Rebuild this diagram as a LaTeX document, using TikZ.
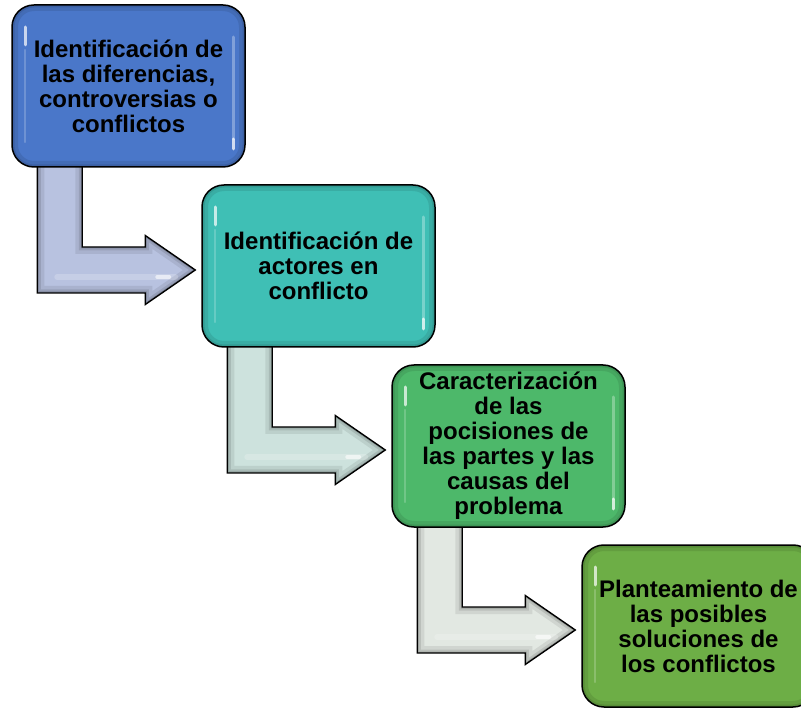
\documentclass[tikz,border=0pt]{standalone}
\usepackage{fontspec}
\setmainfont{Liberation Sans}
\usetikzlibrary{calc,backgrounds}
\definecolor{boxA}{HTML}{4A77C9}
\definecolor{boxB}{HTML}{3FBFB5}
\definecolor{boxC}{HTML}{4DB86A}
\definecolor{boxD}{HTML}{6DAE46}
\definecolor{arrA}{HTML}{B8C2E0}
\definecolor{arrB}{HTML}{CDE2DD}
\definecolor{arrC}{HTML}{E2E8E2}
\newcommand\arrowpoly[1]{(#1-q1) -- (#1-q2) -- (#1-q3) -- (#1-q4) -- (#1-q5) -- (#1-q6) -- (#1-q7) -- (#1-q8) -- (#1-q9) -- cycle}
\newcommand\flowarrow[3]{%
  \path let \p1=(#1.south west), \p2=(#2.west) in
    (\x1+26,\y1+10) coordinate (#1-q1)
    (\x1+26,\y2-27) coordinate (#1-q2)
    (\x2-56,\y2-27) coordinate (#1-q3)
    (\x2-56,\y2-38.5) coordinate (#1-q4)
    (\x2-6,\y2-4) coordinate (#1-q5)
    (\x2-56,\y2+30.5) coordinate (#1-q6)
    (\x2-56,\y2+19) coordinate (#1-q7)
    (\x1+71,\y2+19) coordinate (#1-q8)
    (\x1+71,\y1+10) coordinate (#1-q9);
  \begin{scope}[on background layer]
    \fill[#3] \arrowpoly{#1};
    \begin{scope}
      \clip \arrowpoly{#1};
      \draw[line width=14pt, black, opacity=.08, line join=miter] \arrowpoly{#1};
      \draw[line width=7pt, black, opacity=.10, line join=miter] \arrowpoly{#1};
      \draw[line width=3pt, black, opacity=.15, line join=miter] \arrowpoly{#1};
      \draw[white, opacity=.2, line width=6pt, line cap=round]
        ($(#1-q2)+(20,16)$) -- ($(#1-q3)+(30,16)$);
      \draw[white, opacity=.6, line width=4pt, line cap=round]
        ($(#1-q3)+(12,16)$) -- ($(#1-q3)+(24,16)$);
    \end{scope}
    \draw[line width=1.4pt, line join=miter] \arrowpoly{#1};
  \end{scope}
}
\tikzset{
  stepbox/.style={draw=black, line width=1.5pt, fill=#1, rounded corners=22pt,
    minimum width=233pt, minimum height=162pt, inner sep=0pt, align=center,
    font=\fontsize{24}{25}\selectfont\bfseries, text=black,
    path picture={
      \draw[rounded corners=22pt, line width=12pt, #1!70!black, opacity=.3]
        (path picture bounding box.south west) rectangle (path picture bounding box.north east);
      \draw[rounded corners=22pt, line width=5pt, #1!60!black, opacity=.3]
        (path picture bounding box.south west) rectangle (path picture bounding box.north east);
      \draw[white, opacity=.7, line width=3pt, line cap=round]
        ($(path picture bounding box.north west)+(13,-22)$) -- ++(0,-18);
      \draw[white, opacity=.2, line width=2.5pt, line cap=round]
        ($(path picture bounding box.north west)+(13,-45)$) -- ($(path picture bounding box.south west)+(13,25)$);
      \draw[white, opacity=.3, line width=3pt, line cap=round]
        ($(path picture bounding box.north east)+(-12,-32)$) -- ($(path picture bounding box.south east)+(-12,28)$);
      \draw[white, opacity=.75, line width=3pt, line cap=round]
        ($(path picture bounding box.south east)+(-12,28)$) -- ++(0,-10);
    }},
}
\begin{document}
\begin{tikzpicture}[x=1pt,y=1pt]
\useasboundingbox (0,0) rectangle (801,-708);
\node[stepbox=boxA] (b1) at (128.5,-86) {Identificación de\\las diferencias,\\controversias o\\conflictos};
\node[stepbox=boxB] (b2) at (318.5,-266) {Identificación de\\actores en\\conflicto};
\node[stepbox=boxC] (b3) at (508.5,-446) {Caracterización\\de las\\pocisiones de\\las partes y las\\causas del\\problema};
\node[stepbox=boxD] (b4) at (698.5,-626) {Planteamiento de\\las posibles\\soluciones de\\los conflictos};
\flowarrow{b1}{b2}{arrA}
\flowarrow{b2}{b3}{arrB}
\flowarrow{b3}{b4}{arrC}
\end{tikzpicture}
\end{document}
